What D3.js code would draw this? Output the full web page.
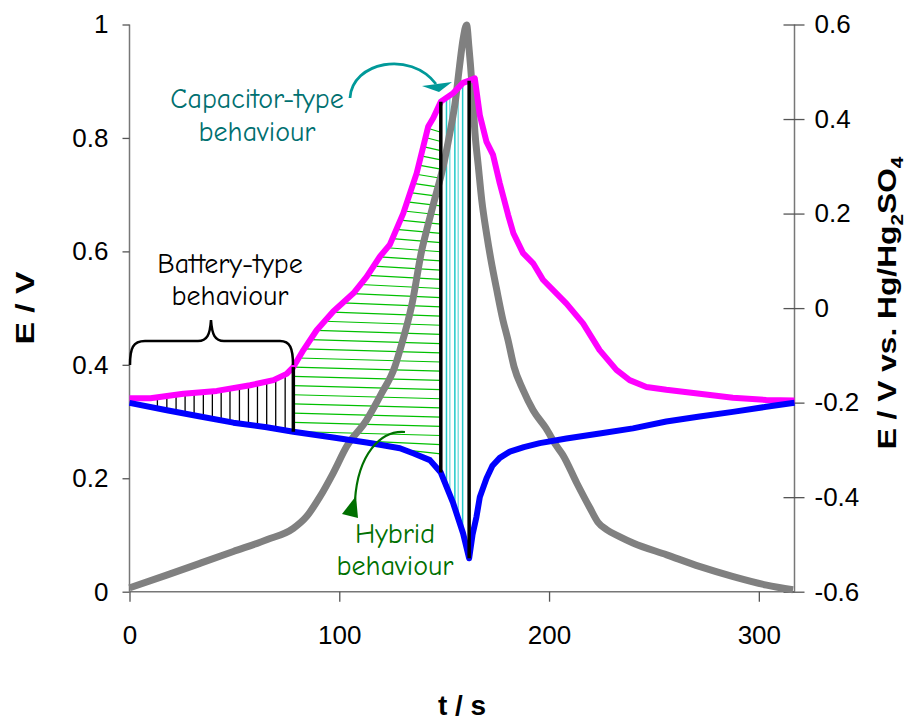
<!DOCTYPE html>
<html lang="en">
<head>
<meta charset="UTF-8">
<title>Hybrid behaviour</title>
<style>
  html, body { margin: 0; padding: 0; background: #fff; }
  svg { display: block; }
  .tick text { font-family: "Liberation Sans", Arial, sans-serif; font-size: 26px; fill: #000; }
  .note { font-family: "Comic Sans MS", "Comic Neue", "DejaVu Sans", sans-serif; font-size: 28px; }
  .title { font-family: "Liberation Sans", Arial, sans-serif; font-weight: bold; }
</style>
</head>
<body>
<svg id="svg" width="924" height="724"></svg>
<script src="https://d3js.org/d3.v7.min.js"></script>
<script>
// magenta curve (left axis)
const tMag = [0, 10, 25.7, 41.6, 57.5, 68.6, 74.9, 78.1, 82.9, 89.2, 97.1, 106.7, 113, 119.4, 124.1, 130.5, 136.9, 142.4, 144.8, 148.4, 154.3, 159, 161.9, 164.6, 167, 170.2, 173.3, 176.5, 180.5, 183, 187.6, 192.4, 197.1, 208.3, 216.2, 224.1, 232.1, 238.4, 246.4, 255.9, 271.8, 287.6, 303.5, 317]
const eMag = [0.341, 0.341, 0.349, 0.354, 0.364, 0.373, 0.384, 0.396, 0.426, 0.461, 0.494, 0.526, 0.555, 0.591, 0.612, 0.667, 0.738, 0.820, 0.835, 0.864, 0.879, 0.897, 0.901, 0.905, 0.840, 0.793, 0.770, 0.720, 0.664, 0.632, 0.597, 0.579, 0.550, 0.508, 0.473, 0.426, 0.391, 0.373, 0.361, 0.356, 0.349, 0.342, 0.338, 0.337]

// blue curve (left axis)
const tBlue = [0, 17.8, 33.7, 49.5, 65.4, 78.1, 97.1, 113, 119.4, 128.9, 135.2, 143.2, 148.4, 154.3, 159, 161.9, 163.5, 165.4, 167, 170.2, 173, 176.5, 181.3, 188, 195.6, 208.3, 224.1, 240, 255.9, 271.8, 287.6, 303.5, 317]
const eBlue = [0.333, 0.320, 0.309, 0.298, 0.290, 0.282, 0.272, 0.263, 0.259, 0.253, 0.244, 0.232, 0.210, 0.156, 0.103, 0.059, 0.100, 0.132, 0.167, 0.200, 0.222, 0.236, 0.247, 0.255, 0.262, 0.270, 0.279, 0.288, 0.300, 0.309, 0.317, 0.326, 0.333]

// grey curve (right axis, vs. Hg/Hg2SO4)
const tGray = [0, 17.7, 33.6, 49.5, 65.4, 78.1, 84.4, 90.8, 97.1, 103.5, 113, 120.2, 126.5, 128.9, 134.6, 139.4, 142.3, 144.8, 149.5, 152.7, 155.4, 157.3, 159.1, 160.7, 161.8, 163.2, 164.7, 166.3, 167.9, 170.3, 172.3, 175, 178, 180.4, 183.3, 187.6, 192.4, 198.5, 203.3, 206.6, 213.2, 219.5, 223.3, 227.5, 233.8, 240, 256.1, 272, 287.8, 303.7, 316.3]
const eGray = [-0.592, -0.565, -0.540, -0.515, -0.490, -0.466, -0.441, -0.399, -0.349, -0.293, -0.237, -0.180, -0.124, -0.089, 0.007, 0.124, 0.176, 0.219, 0.299, 0.370, 0.440, 0.511, 0.571, 0.599, 0.552, 0.476, 0.370, 0.299, 0.229, 0.155, 0.102, 0.040, -0.025, -0.067, -0.124, -0.173, -0.216, -0.254, -0.290, -0.311, -0.370, -0.423, -0.453, -0.469, -0.484, -0.497, -0.522, -0.547, -0.568, -0.586, -0.596]

// tick labels
const xTicks = [0, 100, 200, 300]
const yLeftTicks = [0, 0.2, 0.4, 0.6, 0.8, 1]
const yRightTicks = [-0.6, -0.4, -0.2, 0, 0.2, 0.4, 0.6]

// marker times for the three regions
const tBattEnd = 78.1
const tHybEnd = 148.4
const tCapEnd = 161.9
const tBattHatch = [13.3, 17.8, 22.2, 26.5, 30.8, 35.2, 39.5, 43.7, 47.9, 52.4, 56.7, 61.0, 65.4, 69.7, 74.2]
const tCapHatch = [151.1, 152.7, 155.1, 156.7, 158.8]

const margin = { top: 24.5, right: 129.5, bottom: 132.3, left: 129.5 }
const W = 924, H = 724

const x = d3.scaleLinear().domain([0, 317]).range([margin.left, W - margin.right])
const yL = d3.scaleLinear().domain([0, 1]).range([H - margin.bottom, margin.top])
const yR = d3.scaleLinear().domain([-0.6, 0.6]).range([H - margin.bottom, margin.top])

const svg = d3.select('#svg')

const mag = tMag.map((t, i) => [t, eMag[i]])
const blue = tBlue.map((t, i) => [t, eBlue[i]])
const gray = tGray.map((t, i) => [t, eGray[i]])

// linear interpolation on a curve
function at(ts, es, t) {
    for (let i = 1; i < ts.length; i++) {
        if (t <= ts[i]) {
            const f = (t - ts[i - 1]) / (ts[i] - ts[i - 1])
            return es[i - 1] + f * (es[i] - es[i - 1])
        }
    }
    return es[es.length - 1]
}
// first time the curve reaches level e, between t0 and t1
function cross(ts, es, e, t0, t1) {
    for (let i = 1; i < ts.length; i++) {
        if (ts[i] < t0 || ts[i - 1] > t1) continue
        const a = es[i - 1], b = es[i]
        if ((a - e) * (b - e) <= 0 && a !== b) {
            return ts[i - 1] + (e - a) / (b - a) * (ts[i] - ts[i - 1])
        }
    }
    return null
}

// green hatching (hybrid region)
const hatch = svg.append('g')
const eTop = 0.817, eBot = 0.25
for (let e = eBot; e <= eTop + 1e-6; e += 0.0162) {
    let t0 = tBattEnd
    if (e > at(tMag, eMag, tBattEnd)) t0 = cross(tMag, eMag, e, tBattEnd, tHybEnd)
    else if (e < at(tBlue, eBlue, tBattEnd)) t0 = cross(tBlue, eBlue, e, tBattEnd, tHybEnd)
    if (t0 == null) continue
    hatch.append('line')
        .attr('x1', x(t0)).attr('y1', yL(e))
        .attr('x2', x(tHybEnd)).attr('y2', yL(e) + 4)
        .attr('stroke', '#00c000').attr('stroke-width', 1.2)
}

// battery hatching
hatch.selectAll('.bh').data(tBattHatch).join('line')
    .attr('x1', d => x(d)).attr('x2', d => x(d))
    .attr('y1', d => yL(at(tBlue, eBlue, d)))
    .attr('y2', d => yL(at(tMag, eMag, d)))
    .attr('stroke', '#000').attr('stroke-width', 1.3)

// capacitor hatching
hatch.selectAll('.ch').data(tCapHatch).join('line')
    .attr('x1', d => x(d)).attr('x2', d => x(d))
    .attr('y1', d => yL(at(tBlue, eBlue, d)))
    .attr('y2', d => yL(at(tMag, eMag, d)))
    .attr('stroke', (d, i) => i % 2 ? '#80e0e0' : '#20c8c8').attr('stroke-width', 1.5)

// axes
const fmt = d => String(+d.toFixed(1))
const gx = svg.append('g').attr('transform', `translate(0,${H - margin.bottom})`)
    .call(d3.axisBottom(x).tickValues(xTicks).tickSize(10).tickPadding(24).tickFormat(fmt))
const gl = svg.append('g').attr('transform', `translate(${margin.left},0)`)
    .call(d3.axisLeft(yL).tickValues(yLeftTicks).tickSize(7).tickPadding(14).tickFormat(fmt))
const gr = svg.append('g').attr('transform', `translate(${W - margin.right},0)`)
    .call(d3.axisRight(yR).tickValues(yRightTicks).tickSize(10).tickPadding(10).tickFormat(fmt))
gr.selectAll('.tick line').attr('x1', -11)
;[gx, gl, gr].forEach(g => {
    g.select('.domain').attr('stroke', '#777').attr('stroke-width', 1.5)
    g.selectAll('.tick line').attr('stroke', '#555').attr('stroke-width', 1.3)
})
gl.select('.domain').attr('d', `M0,${margin.top}V${H - margin.bottom}`)
gr.select('.domain').attr('d', `M0,${margin.top}V${H - margin.bottom}`)
gx.select('.domain').attr('d', `M${margin.left},0H${W - margin.right}`)

// curves
const lineL = d3.line().x(d => x(d[0])).y(d => yL(d[1]))
const lineR = d3.line().x(d => x(d[0])).y(d => yR(d[1])).curve(d3.curveMonotoneX)
svg.append('path').datum(gray).attr('d', lineR).attr('fill', 'none')
    .attr('stroke', '#808080').attr('stroke-width', 7).attr('stroke-linejoin', 'round')
svg.append('path').datum(mag).attr('d', lineL).attr('fill', 'none')
    .attr('stroke', '#ff00ff').attr('stroke-width', 6).attr('stroke-linejoin', 'round')
svg.append('path').datum(blue).attr('d', lineL).attr('fill', 'none')
    .attr('stroke', '#0000ff').attr('stroke-width', 6).attr('stroke-linejoin', 'round')

// thick black separators
svg.selectAll('.sep').data([tBattEnd, tHybEnd, tCapEnd]).join('line')
    .attr('x1', d => x(d)).attr('x2', d => x(d))
    .attr('y1', d => yL(at(tBlue, eBlue, d)))
    .attr('y2', d => yL(at(tMag, eMag, d)))
    .attr('stroke', '#000').attr('stroke-width', 3.5)

// annotations
svg.append('text').attr('class', 'note').attr('fill', '#007070').attr('text-anchor', 'middle')
    .selectAll('tspan').data(['Capacitor-type', 'behaviour']).join('tspan')
    .attr('x', 257).attr('y', (d, i) => 108 + i * 33).text(d => d)
svg.append('path').attr('d', 'M350,98 C352,62 410,50 436,84')
    .attr('fill', 'none').attr('stroke', '#009999').attr('stroke-width', 2.8)
svg.append('polygon').attr('points', '422,86 452,82 439,92').attr('fill', '#009999')

svg.append('text').attr('class', 'note').attr('fill', '#000').attr('text-anchor', 'middle')
    .selectAll('tspan').data(['Battery-type', 'behaviour']).join('tspan')
    .attr('x', 230).attr('y', (d, i) => 273 + i * 32).text(d => d)
svg.append('path')
    .attr('d', 'M130,365 C130,348 133,341 145,341 L198,341 C207,341 210,335 211,320 C212,335 215,341 224,341 L280,341 C290,341 293,348 293,365')
    .attr('fill', 'none').attr('stroke', '#000').attr('stroke-width', 2.5)

svg.append('text').attr('class', 'note').attr('fill', '#007000').attr('text-anchor', 'middle')
    .selectAll('tspan').data(['Hybrid', 'behaviour']).join('tspan')
    .attr('x', 395).attr('y', (d, i) => 543 + i * 32).text(d => d)
svg.append('path').attr('d', 'M405,432 C380,430 358,455 355,500')
    .attr('fill', 'none').attr('stroke', '#007000').attr('stroke-width', 2.2)
svg.append('polygon').attr('points', '342,514 358,518 356,496').attr('fill', '#007000')

// axis titles
svg.append('text').attr('class', 'title').attr('transform', 'translate(34,308) rotate(-90) scale(1.3,1)')
    .attr('text-anchor', 'middle').attr('font-size', 26).text('E / V')
svg.append('text').attr('class', 'title').attr('x', 462).attr('y', 715)
    .attr('text-anchor', 'middle').attr('font-size', 28).text('t / s')
const rt = svg.append('text').attr('class', 'title').attr('transform', 'translate(896,303) rotate(-90) scale(1.22,1)')
    .attr('text-anchor', 'middle').attr('font-size', 26)
rt.append('tspan').text('E / V vs. Hg/Hg')
rt.append('tspan').attr('font-size', 17).attr('dy', 7).text('2')
rt.append('tspan').attr('dy', -7).text('SO')
rt.append('tspan').attr('font-size', 17).attr('dy', 7).text('4')
</script>
</body>
</html>
